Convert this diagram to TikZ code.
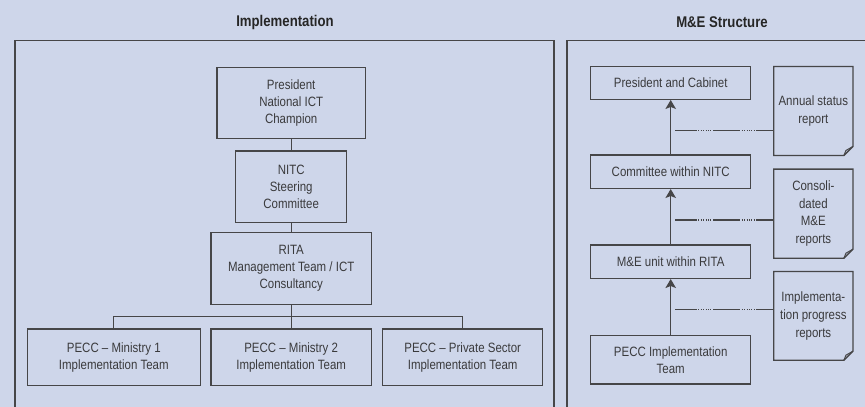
\documentclass[tikz,border=0pt]{standalone}
\usepackage{fontspec}
\setmainfont{Liberation Sans}[FakeStretch=0.85]
\usetikzlibrary{arrows.meta}
\definecolor{bg}{RGB}{206,214,234}
\definecolor{ln}{RGB}{70,70,72}
\definecolor{tx}{RGB}{58,58,60}
\begin{document}
\begin{tikzpicture}[x=1pt,y=-1pt,
  box/.style={draw=ln, line width=1.3pt, text=tx, align=center, inner sep=0pt,
    font=\fontsize{13.5}{17}\selectfont},
  doctext/.style={text=tx, align=center, inner sep=0pt,
    font=\fontsize{13.5}{17.7}\selectfont, minimum width=78.7pt},
  frame/.style={draw=ln, line width=1.3pt},
  conn/.style={draw=ln, line width=1.3pt},
  uparrow/.style={draw=ln, line width=1.3pt, -{Stealth[length=9pt,width=10.5pt,inset=2pt]}},
  dashlink/.style={draw=ln, line width=1.2pt,
    dash pattern=on 21.7pt off 1.6pt on 0.8pt off 1.6pt on 0.8pt off 1.6pt on 0.8pt off 1.6pt on 0.8pt off 1.6pt on 0.8pt off 1.6pt on 0.8pt off 2pt on 27pt off 1.6pt on 0.8pt off 1.6pt on 0.8pt off 1.6pt on 0.8pt off 1.6pt on 0.8pt off 1.6pt on 0.8pt off 1.6pt on 0.8pt off 1.3pt on 30pt off 1pt},
  title/.style={text=black!85, inner sep=0pt, font=\bfseries\fontsize{15.5}{18}\selectfont}
]
\fill[bg] (0,0) rectangle (865,407);
\useasboundingbox (0,0) rectangle (865,407);

% titles
\node[title] (t1) at (285,22.5) {Implementation};
\node[title] (t2) at (722,22.5) {M\&E Structure};

% frames
\draw[frame] (15,407) -- (15,40.5) -- (554,40.5) -- (554,407);
\draw[frame] (567,407) -- (567,40.5) -- (865,40.5);

% implementation
\node[box, minimum width=148.3pt, minimum height=71pt] (pres) at (291.2,102.8) {President\\National ICT\\Champion};
\node[box, minimum width=111pt, minimum height=71.3pt] (nitc) at (291.2,186.7) {NITC\\Steering\\Committee};
\node[box, minimum width=160.7pt, minimum height=71.6pt] (rita) at (291.2,268.5) {RITA\\Management Team / ICT\\Consultancy};
\node[box, minimum width=172.7pt, minimum height=56.7pt] (p1) at (113.8,357.3) {PECC -- Ministry 1\\Implementation Team};
\node[box, minimum width=160.7pt, minimum height=56.7pt] (p2) at (291.2,357.3) {PECC -- Ministry 2\\Implementation Team};
\node[box, minimum width=160pt, minimum height=56.7pt] (p3) at (462.7,357.3) {PECC -- Private Sector\\Implementation Team};

\coordinate (br) at (291.2,316.2);
\draw[conn] (pres.south) -- (nitc.north);
\draw[conn] (nitc.south) -- (rita.north);
\draw[conn] (rita.south) -- (p2.north);
\draw[conn] (p1.north) -- (p1.north |- br) -- (p3.north |- br) -- (p3.north);

% M&E structure
\node[box, minimum width=160pt, minimum height=32.6pt] (pc) at (670.7,83) {President and Cabinet};
\node[box, minimum width=160pt, minimum height=33.3pt] (cn) at (670.7,171.7) {Committee within NITC};
\node[box, minimum width=160pt, minimum height=33.3pt] (me) at (670.7,261.7) {M\&E unit within RITA};
\node[box, minimum width=160pt, minimum height=48.3pt] (pi) at (670.7,359.8) {PECC Implementation\\Team};

\draw[uparrow] (cn.north) -- (pc.south);
\draw[uparrow] (me.north) -- (cn.south);
\draw[uparrow] (pi.north) -- (me.south);

% documents
\newcommand\mydocshape[1]{%
  \draw[draw=ln, line width=1.3pt]
    (#1.north west) -- (#1.north east) -- ([yshift=9pt]#1.south east)
    -- ([xshift=-9pt]#1.south east) -- (#1.south west) -- cycle;
  \draw[draw=ln, line width=1pt]
    ([yshift=9pt]#1.south east) -- ([xshift=-7pt,yshift=5pt]#1.south east)
    -- ([xshift=-9pt]#1.south east);
}
\node[doctext, minimum height=88.6pt] (d1) at (813.35,111) {Annual status\\report};
\node[doctext, minimum height=88.7pt] (d2) at (813.35,213.65) {Consoli-\\dated\\M\&E\\reports};
\node[doctext, minimum height=88.3pt] (d3) at (813.35,315.85) {Implementa-\\tion progress\\reports};
\mydocshape{d1}
\mydocshape{d2}
\mydocshape{d3}

\coordinate (c1) at (675,130.7);
\coordinate (c2) at (675,220);
\coordinate (c3) at (675,309.3);
\draw[dashlink] (c1) -- (c1 -| d1.west);
\draw[dashlink] (c2) -- (c2 -| d2.west);
\draw[dashlink] (c3) -- (c3 -| d3.west);
\end{tikzpicture}
\end{document}
